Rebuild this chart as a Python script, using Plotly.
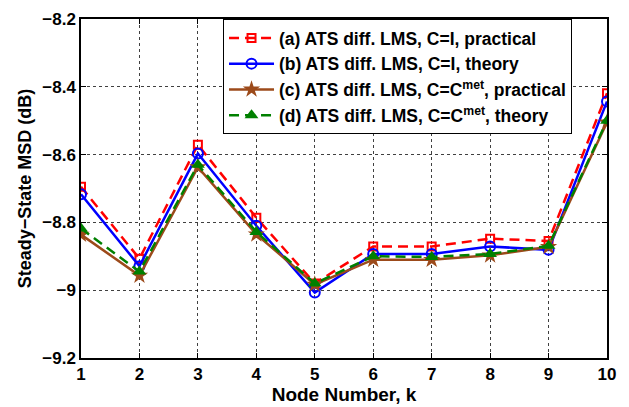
import plotly.graph_objects as go

nodes = [1, 2, 3, 4, 5, 6, 7, 8, 9, 10]
msd_a = [-8.695, -8.907, -8.571, -8.786, -8.980, -8.871, -8.871, -8.848, -8.855, -8.419]
msd_b = [-8.717, -8.929, -8.597, -8.810, -9.007, -8.893, -8.893, -8.871, -8.881, -8.443]
msd_c = [-8.836, -8.957, -8.637, -8.835, -8.983, -8.910, -8.910, -8.897, -8.872, -8.505]
msd_d = [-8.818, -8.945, -8.630, -8.828, -8.980, -8.900, -8.902, -8.893, -8.869, -8.500]
names = [
    "(a) ATS diff. LMS, C=I, practical",
    "(b) ATS diff. LMS, C=I, theory",
    "(c) ATS diff. LMS, C=C<sup>met</sup>, practical",
    "(d) ATS diff. LMS, C=C<sup>met</sup>, theory",
]
x_ticks = [1, 2, 3, 4, 5, 6, 7, 8, 9, 10]
y_ticks = [-9.2, -9.0, -8.8, -8.6, -8.4, -8.2]

FONT = "Liberation Sans, Arial, Helvetica, sans-serif"

fig = go.Figure()
fig.add_trace(go.Scatter(
    x=nodes, y=msd_a, name=names[0], mode="lines+markers",
    line=dict(color="#ff0000", width=2.5, dash="10px,6px"),
    marker=dict(symbol="square-open", size=8, color="#ff0000", line=dict(width=2, color="#ff0000")),
))
fig.add_trace(go.Scatter(
    x=nodes, y=msd_b, name=names[1], mode="lines+markers",
    line=dict(color="#0000ff", width=2.5),
    marker=dict(symbol="circle-open", size=10, color="#0000ff", line=dict(width=2, color="#0000ff")),
))
fig.add_trace(go.Scatter(
    x=nodes, y=msd_c, name=names[2], mode="lines+markers",
    line=dict(color="#9c4a1a", width=2.5),
    marker=dict(symbol="star", size=13, color="#9c4a1a", line=dict(width=0)),
))
fig.add_trace(go.Scatter(
    x=nodes, y=msd_d, name=names[3], mode="lines+markers",
    line=dict(color="#008000", width=2.5, dash="10px,6px"),
    marker=dict(symbol="triangle-up", size=12, color="#008000", line=dict(width=0)),
))

axis_common = dict(
    showline=True, linecolor="black", linewidth=1.5, mirror="allticks",
    ticks="inside", ticklen=5, tickcolor="black", tickwidth=1,
    showgrid=True, gridcolor="rgba(0,0,0,0.75)", griddash="dot", gridwidth=1,
    zeroline=False,
    tickfont=dict(family=FONT, size=17, color="black", weight="bold"),
)

fig.update_xaxes(
    range=[1, 10], tickvals=x_ticks, ticktext=[str(v) for v in x_ticks],
    title=dict(text="Node Number, k", font=dict(family=FONT, size=19, color="black", weight="bold"), standoff=0),
    **axis_common,
)
fig.update_yaxes(
    range=[-9.2, -8.2], tickvals=y_ticks,
    ticktext=["\u22129.2", "\u22129", "\u22128.8", "\u22128.6", "\u22128.4", "\u22128.2"],
    title=dict(text="Steady\u2212State MSD (dB)", font=dict(family=FONT, size=18, color="black", weight="bold"), standoff=6),
    **axis_common,
)

fig.update_layout(
    width=629, height=407,
    margin=dict(l=81, r=22, t=10, b=47),
    paper_bgcolor="white", plot_bgcolor="white",
    font=dict(family=FONT, color="black", weight="bold"),
    showlegend=True,
    legend=dict(
        x=0.27, y=1.0, xanchor="left", yanchor="top",
        bgcolor="white", bordercolor="black", borderwidth=1,
        font=dict(family=FONT, size=17.5, color="black", weight="bold"),
        itemwidth=45, tracegroupgap=0,
    ),
)

fig.write_html("out.html")
